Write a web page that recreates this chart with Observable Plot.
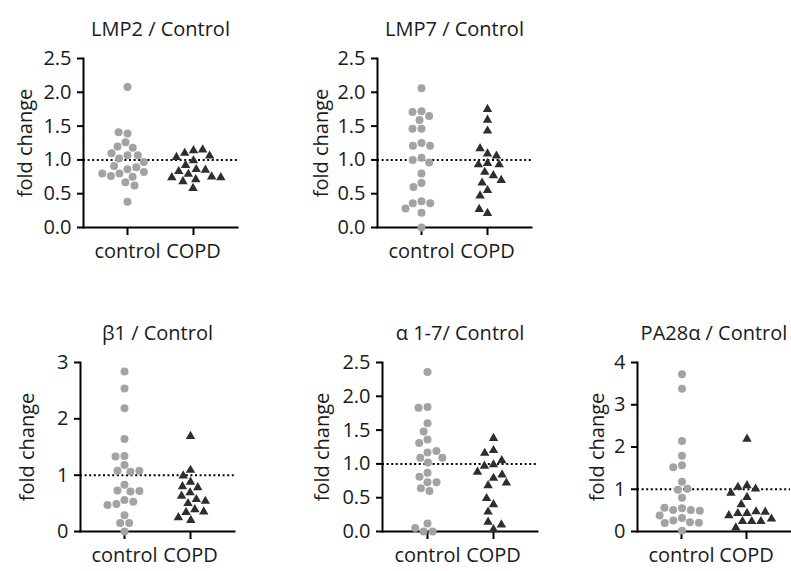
<!DOCTYPE html>
<html>
<head>
<meta charset="utf-8">
<script src="https://cdn.jsdelivr.net/npm/d3@7"></script>
<script src="https://cdn.jsdelivr.net/npm/@observablehq/plot@0.6"></script>
<style>
  html, body { margin: 0; padding: 0; background: #fff; }
  #chart { position: relative; width: 791px; height: 571px; overflow: hidden; }
  #chart svg { position: absolute; left: 0; top: 0; }
</style>
</head>
<body>
<div id="chart"></div>
<script>
// ---- data ----
const categories = ["control", "COPD"];

const lmp2Control = [2.08, 1.39, 1.41, 1.26, 1.18, 1.20, 1.07, 1.07, 1.10, 1.02, 0.97, 0.86, 0.89, 0.91, 0.80, 0.82, 0.75, 0.76, 0.80, 0.67, 0.62, 0.38];
const lmp2COPD = [1.14, 1.10, 1.15, 1.06, 1.04, 0.99, 0.92, 0.86, 0.85, 0.83, 0.79, 0.75, 0.74, 0.71, 0.74, 0.68, 0.58];

const lmp7Control = [2.06, 1.72, 1.71, 1.65, 1.59, 1.46, 1.46, 1.25, 1.21, 1.21, 1.03, 1.00, 0.96, 0.80, 0.66, 0.60, 0.39, 0.36, 0.36, 0.28, 0.22, 0.00];
const lmp7COPD = [1.09, 0.95, 0.82, 0.55, 0.21, 1.75, 1.59, 1.43, 1.17, 0.93, 0.77, 0.66, 0.47, 1.06, 0.93, 0.70, 0.27];

const beta1Control = [2.84, 2.54, 2.19, 1.64, 1.34, 1.33, 1.18, 1.08, 1.06, 1.08, 0.83, 0.73, 0.71, 0.72, 0.56, 0.49, 0.53, 0.47, 0.29, 0.15, 0.15, 0.00];
const beta1COPD = [1.69, 1.09, 0.99, 0.88, 0.80, 0.78, 0.69, 0.63, 0.57, 0.54, 0.50, 0.39, 0.34, 0.35, 0.25, 0.20];

const alphaControl = [2.36, 1.84, 1.83, 1.60, 1.48, 1.36, 1.31, 1.17, 1.19, 1.09, 1.09, 1.02, 0.87, 0.81, 0.73, 0.73, 0.64, 0.60, 0.12, 0.00, 0.00, 0.05];
const alphaCOPD = [1.20, 0.99, 0.79, 0.40, 0.03, 1.38, 1.16, 0.97, 0.84, 0.68, 0.49, 0.29, 0.14, 1.05, 0.88, 0.72, 0.10];

const pa28Control = [3.72, 3.38, 2.14, 1.79, 1.57, 1.52, 1.18, 0.99, 1.01, 0.80, 0.55, 0.51, 0.51, 0.56, 0.49, 0.38, 0.32, 0.26, 0.22, 0.21, 0.20, 0.02];
const pa28COPD = [2.19, 1.09, 1.05, 1.01, 0.91, 0.81, 0.64, 0.43, 0.47, 0.43, 0.46, 0.38, 0.30, 0.24, 0.24, 0.24, 0.09];

const ticks25 = [0, 0.5, 1, 1.5, 2, 2.5];
const ticks3 = [0, 1, 2, 3];
const ticks4 = [0, 1, 2, 3, 4];

const titles = ["LMP2 / Control", "LMP7 / Control", "β1 / Control", "α 1-7/ Control", "PA28α / Control"];
const yLabel = "fold change";
const refValue = [1];

// ---- layout ----
const W = 791, H = 571;
const FONT = '"Open Sans", "Noto Sans", sans-serif';
const panels = [
  {title: titles[0], control: lmp2Control, copd: lmp2COPD, yMax: 2.5, ticks: ticks25, fmt: d3.format(".1f"), left: 83, right: 237, top: 58, bottom: 227, labelDx: -58},
  {title: titles[1], control: lmp7Control, copd: lmp7COPD, yMax: 2.5, ticks: ticks25, fmt: d3.format(".1f"), left: 377, right: 531, top: 58, bottom: 227, labelDx: -56},
  {title: titles[2], control: beta1Control, copd: beta1COPD, yMax: 3, ticks: ticks3, fmt: d3.format("d"), left: 80, right: 234, top: 362, bottom: 531, labelDx: -53},
  {title: titles[3], control: alphaControl, copd: alphaCOPD, yMax: 2.5, ticks: ticks25, fmt: d3.format(".1f"), left: 382, right: 537, top: 362, bottom: 531, labelDx: -60},
  {title: titles[4], control: pa28Control, copd: pa28COPD, yMax: 4, ticks: ticks4, fmt: d3.format("d"), left: 637, right: 790, top: 362, bottom: 531, labelDx: -40}
];

function baseOptions(p) {
  return {
    width: W,
    height: H,
    marginLeft: p.left,
    marginRight: W - p.right,
    marginTop: p.top,
    marginBottom: H - p.bottom,
    style: {background: "none", fontFamily: FONT, fontSize: "20px", color: "#1a1a1a", overflow: "visible"}
  };
}

// axes, reference line, titles
function drawAxes(p) {
  return Plot.plot({
    ...baseOptions(p),
    x: {type: "point", domain: categories, padding: 2 / 3, label: null},
    y: {domain: [0, p.yMax], label: null},
    marks: [
      Plot.ruleY(refValue, {stroke: "#000", strokeWidth: 2, strokeDasharray: "2 2.6"}),
      Plot.frame({anchor: "left", stroke: "#000", strokeWidth: 2}),
      Plot.frame({anchor: "bottom", stroke: "#000", strokeWidth: 2}),
      Plot.axisY({ticks: p.ticks, tickFormat: p.fmt, tickSize: 6, tickPadding: 6, strokeWidth: 2, stroke: "#000", label: null, fontSize: 20}),
      Plot.axisX({tickSize: 8, tickPadding: 8, strokeWidth: 2, stroke: "#000", label: null, fontSize: 20}),
      Plot.text([p.title], {text: d => d, frameAnchor: "top", dy: -23, lineAnchor: "bottom", fontSize: 20}),
      Plot.text([yLabel], {text: d => d, frameAnchor: "left", textAnchor: "middle", dx: p.labelDx, rotate: -90, fontSize: 20})
    ]
  });
}

// the beeswarm points, one facet per group
function drawPoints(p) {
  const controlRows = p.control.map(value => ({group: categories[0], value}));
  const copdRows = p.copd.map(value => ({group: categories[1], value}));
  return Plot.plot({
    ...baseOptions(p),
    fx: {domain: categories, paddingInner: 0, paddingOuter: 1 / 6, axis: null, label: null},
    y: {domain: [0, p.yMax], axis: null, label: null},
    marks: [
      Plot.dot(controlRows, Plot.dodgeX({anchor: "middle", r: 4, padding: 1},
        {fx: "group", y: "value", r: 4, fill: "#a3a3a3", symbol: "circle"})),
      Plot.dot(copdRows, Plot.dodgeX({anchor: "middle", r: 3.5, padding: 2.2},
        {fx: "group", y: "value", r: 3.5, fill: "#2e2e2e", symbol: "triangle"}))
    ]
  });
}

const chart = document.getElementById("chart");
for (const p of panels) {
  chart.appendChild(drawAxes(p));
  chart.appendChild(drawPoints(p));
}
</script>
</body>
</html>
